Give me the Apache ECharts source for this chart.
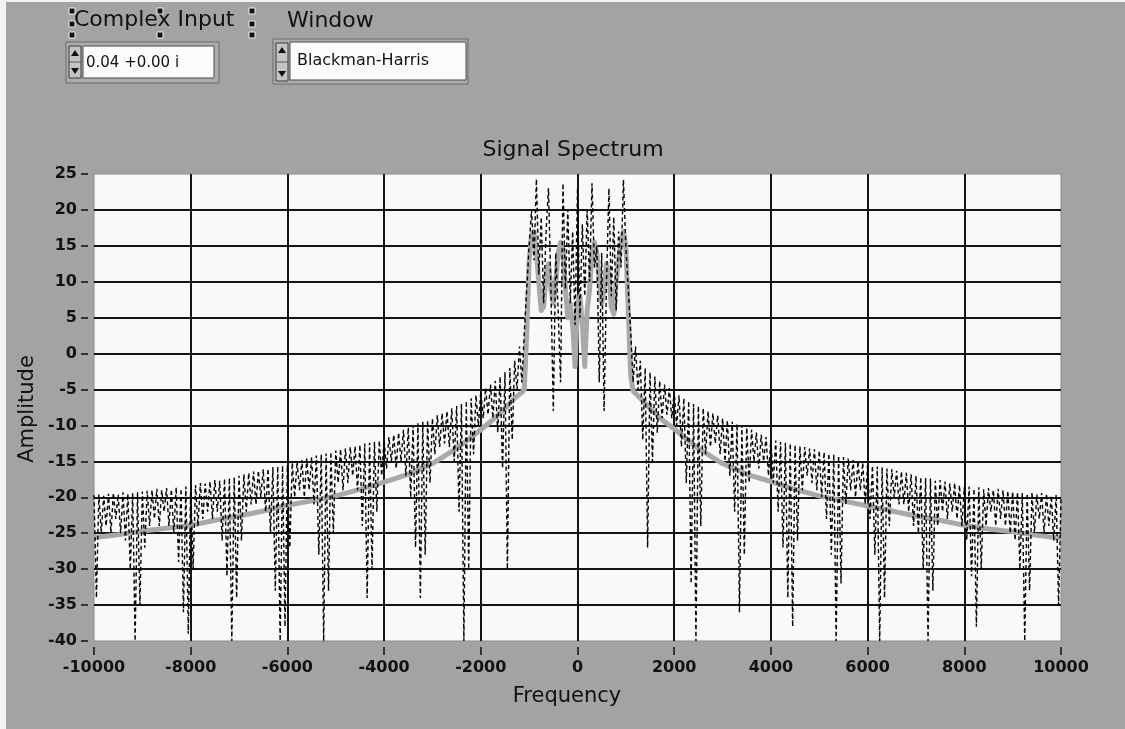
<!DOCTYPE html>
<html>
<head>
<meta charset="utf-8">
<script src="https://cdn.jsdelivr.net/npm/echarts@6/dist/echarts.min.js"></script>
<style>
html,body{margin:0;padding:0;background:#a3a3a3;}
#chart{width:1125px;height:729px;}
</style>
</head>
<body>
<div id="chart"></div>
<script>
// ---- tick labels / axis ranges ----
const xTicks = [-10000,-8000,-6000,-4000,-2000,0,2000,4000,6000,8000,10000];
const yTicks = [25,20,15,10,5,0,-5,-10,-15,-20,-25,-30,-35,-40];

// ---- dashed series (no window), sampled every 50 Hz from -10000 to 10000 ----
const dashFreqStart = -10000;
const dashFreqStep = 50;
const dashAmpLeft = [
  -19.7,-34,-19.6,-25,-19.8,-24,-19.5,-25,-19.4,-23,-19.6,-25,-19.3,-26,-19.5,-30,-19.4,-40,-19.3,-35,
  -19.2,-27,-19.1,-24,-19,-23,-18.8,-24,-19,-22,-18.7,-24,-18.9,-25,-18.6,-29,-18.8,-36,-18.5,-39,
  -18.6,-30,-18.3,-24,-18,-23,-18.1,-22,-17.8,-23,-17.6,-22,-17.7,-26,-17.4,-31,-17.3,-40,-17.2,-34,
  -17,-26,-16.8,-22,-16.6,-21,-16.4,-21,-16.3,-20,-16.1,-22,-16,-25,-15.8,-33,-15.7,-40,-15.6,-38,
  -15.5,-27,-15.2,-20,-15,-19,-14.8,-20,-14.6,-19,-14.4,-21,-14.2,-28,-14,-40,-13.9,-33,-13.7,-25,
  -13.5,-18,-13.3,-19,-13.2,-18,-13,-17,-12.9,-19,-12.7,-24,-12.5,-34,-12.4,-30,-12.3,-22,-12.1,-17,
  -12,-16,-11.6,-15,-11.3,-16,-11,-15,-10.6,-17,-10.3,-20,-10,-27,-9.7,-34,-9.5,-28,-9.3,-18,
  -9,-14,-8.6,-13,-8.3,-12.5,-8,-13,-7.6,-15,-7.3,-22,-7,-40,-6.6,-30,-6.2,-14,-5.8,-10,
  -5.3,-9,-4.8,-8.5,-4.3,-9,-3.8,-11,-3.2,-16,-2.6,-30,-2,-12,-1,-5
];
const dashAmpCenter = [
  1,-4,3,9,15,20,13,24.3,11,19,7,17,23,9,-8,14,6,-4,23.7,9,20,7,17,4,23,
  5,18,8,20,10,23.7,12,15,-4,14,-8,10,23,8,19,6,17,12,24.2,15,9,3,-4,1
];
const dashAmpRight = [
  -5,-1,-12,-2,-27,-2.6,-15,-3.2,-11,-3.8,-9,-4.3,-8.5,-4.8,-9,-5.3,
  -10,-5.8,-13,-6.2,-18,-6.6,-32,-7,-40,-7.3,-24,-7.6,-14,-8,-13,-8.3,-12.5,-8.6,-14,-9,
  -15,-9.3,-17,-9.5,-22,-9.8,-36,-10,-28,-10.3,-18,-10.6,-15,-11,-16,-11.3,-15,-11.6,-17,-12,
  -18,-12.1,-22,-12.3,-27,-12.4,-34,-12.5,-38,-12.7,-26,-12.9,-19,-13,-17,-13.2,-18,-13.3,-19,-13.5,
  -20,-13.7,-23,-13.9,-28,-14,-40,-14.2,-32,-14.4,-21,-14.6,-19,-14.8,-20,-15,-19,-15.2,-21,-15.5,
  -23,-15.6,-28,-15.7,-40,-15.8,-34,-16,-24,-16.1,-20,-16.3,-21,-16.4,-21,-16.6,-22,-16.8,-24,-17,
  -25,-17.2,-30,-17.3,-40,-17.4,-33,-17.7,-24,-17.6,-22,-17.8,-23,-18.1,-22,-18,-23,-18.3,-24,-18.6,
  -26,-18.5,-31,-18.8,-38,-18.6,-30,-18.9,-24,-18.7,-22,-19,-24,-18.8,-23,-19,-24,-19.1,-25,-19.2,
  -26,-19.3,-30,-19.4,-40,-19.5,-33,-19.3,-25,-19.6,-23,-19.4,-25,-19.5,-24,-19.8,-26,-19.6,-35,-20
];

// ---- gray series (Blackman-Harris window) ----
const grayFreq = [
  -10000,-9500,-9000,-8500,-8000,-7500,-7000,-6500,-6000,-5500,-5000,-4500,-4000,-3500,-3000,-2500,-2000,-1750,-1500,-1300,-1150,
  -1100,-1050,-1000,-950,-900,-850,-800,-750,-700,-650,-600,-550,-500,-450,-400,-350,-300,-250,-200,-150,-100,-50,
  0,50,100,150,200,250,300,350,400,450,500,550,600,650,700,750,800,850,900,950,1000,1050,1100,
  1150,1300,1500,1750,2000,2500,3000,3500,4000,4500,5000,5500,6000,6500,7000,7500,8000,8500,9000,9500,10000
];
const grayAmp = [
  -25.6,-25.2,-24.7,-24.3,-23.9,-23.2,-22.6,-21.9,-21.1,-20.5,-19.8,-18.9,-17.9,-16.8,-15.3,-13.2,-10.6,-9.2,-7.6,-6.2,-5.4,
  -5,3,13,16.5,17,14,10,6,6.5,11,12.5,9,7,10,14,15.5,14,9,5,7,4,-1.8,
  7,8,4,-1.8,6,9,14,15.5,14,10,7,9,12.5,11,6.5,5.5,10,13,15.5,17,15,6,-3,
  -5.2,-6.2,-7.6,-9.2,-10.5,-13.2,-15.3,-16.8,-17.8,-18.9,-19.8,-20.5,-21.2,-21.9,-22.6,-23.2,-23.9,-24.4,-24.8,-25.3,-25.7
];

const dashAmp = dashAmpLeft.concat(dashAmpCenter, dashAmpRight);
const dashData = dashAmp.map((v, i) => [dashFreqStart + i * dashFreqStep, v]);
const grayData = grayFreq.map((f, i) => [f, grayAmp[i]]);

const chart = echarts.init(document.getElementById('chart'), null, {renderer: 'canvas'});
const labelFont = {fontFamily: 'DejaVu Sans', fontWeight: 'bold', fontSize: 16, color: '#111'};

function spinner(x, y, h) {
  return [
    {type: 'rect', shape: {x: x, y: y, width: 12, height: h}, style: {fill: '#c4c4c4', stroke: '#3a3a3a', lineWidth: 1}},
    {type: 'polygon', shape: {points: [[x + 6, y + 4], [x + 10, y + 10], [x + 2, y + 10]]}, style: {fill: '#111'}},
    {type: 'polygon', shape: {points: [[x + 2, y + h - 10], [x + 10, y + h - 10], [x + 6, y + h - 4]]}, style: {fill: '#111'}},
    {type: 'line', shape: {x1: x, y1: y + h / 2, x2: x + 12, y2: y + h / 2}, style: {stroke: '#555', lineWidth: 1}}
  ];
}
function handle(cx, cy) {
  return {type: 'rect', shape: {x: cx - 3, y: cy - 3, width: 6, height: 6}, style: {fill: '#111', stroke: '#eee', lineWidth: 1}};
}

const graphics = [
  {type: 'rect', shape: {x: 0, y: 0, width: 6, height: 729}, style: {fill: '#f2f2f2'}},
  {type: 'rect', shape: {x: 0, y: 0, width: 1125, height: 2}, style: {fill: '#f2f2f2'}},
  // Complex Input control
  {type: 'text', x: 74, y: 9, style: {text: 'Complex Input', font: '22px "DejaVu Sans"', fill: '#111'}},
  handle(72, 11), handle(160, 11), handle(252, 11),
  handle(72, 24), handle(252, 24),
  handle(72, 35), handle(160, 35), handle(252, 35),
  {type: 'rect', shape: {x: 66, y: 42, width: 153, height: 41}, style: {fill: '#acacac', stroke: '#6a6a6a', lineWidth: 1}},
  {type: 'rect', shape: {x: 83, y: 46, width: 131, height: 32}, style: {fill: '#fbfbfb', stroke: '#4a4a4a', lineWidth: 1}},
  ...spinner(69, 46, 32),
  {type: 'text', x: 86, y: 63, style: {text: '0.04 +0.00 i', font: '15px "DejaVu Sans"', fill: '#111', textVerticalAlign: 'middle'}},
  // Window control
  {type: 'text', x: 287, y: 10, style: {text: 'Window', font: '22px "DejaVu Sans"', fill: '#111'}},
  {type: 'rect', shape: {x: 273, y: 39, width: 195, height: 45}, style: {fill: '#acacac', stroke: '#6a6a6a', lineWidth: 1}},
  {type: 'rect', shape: {x: 290, y: 42, width: 176, height: 38}, style: {fill: '#fbfbfb', stroke: '#4a4a4a', lineWidth: 1}},
  ...spinner(276, 43, 38),
  {type: 'text', x: 297, y: 61, style: {text: 'Blackman-Harris', font: '16px "DejaVu Sans"', fill: '#111', textVerticalAlign: 'middle'}},
  // titles
  {type: 'text', x: 573, y: 150, style: {text: 'Signal Spectrum', font: '22px "DejaVu Sans"', fill: '#111', textAlign: 'center', textVerticalAlign: 'middle'}},
  {type: 'text', x: 567, y: 697, style: {text: 'Frequency', font: '21px "DejaVu Sans"', fill: '#111', textAlign: 'center', textVerticalAlign: 'middle'}},
  {type: 'text', x: 28, y: 409, rotation: Math.PI / 2, style: {text: 'Amplitude', font: '21px "DejaVu Sans"', fill: '#111', textAlign: 'center', textVerticalAlign: 'middle'}}
];

chart.setOption({
  backgroundColor: '#a3a3a3',
  animation: false,
  grid: {left: 94, right: 64, top: 174, bottom: 88, show: true, backgroundColor: '#f9f9f9', borderColor: '#8a8a8a', borderWidth: 1},
  xAxis: [
    {
      type: 'value', min: xTicks[0], max: xTicks[xTicks.length - 1], interval: 2000, offset: 6,
      axisLine: {show: false, onZero: false},
      axisTick: {show: true, length: 8, lineStyle: {color: '#111', width: 1.5}},
      axisLabel: Object.assign({margin: 13, formatter: v => String(v)}, labelFont),
      splitLine: {show: true, showMinLine: false, showMaxLine: false, lineStyle: {color: '#141414', width: 2}}
    },
    {
      type: 'value', min: xTicks[0], max: xTicks[xTicks.length - 1], interval: 2000, position: 'bottom', offset: 6,
      axisLine: {show: true, onZero: false, lineStyle: {color: 'rgba(0,0,0,0)', width: 1}},
      axisTick: {show: true, length: 8, lineStyle: {color: '#111', width: 1.5}},
      axisLabel: {show: false},
      splitLine: {show: false}
    }
  ],
  yAxis: {
    type: 'value', min: yTicks[yTicks.length - 1], max: yTicks[0], interval: 5, offset: 6,
    axisLine: {show: false, onZero: false},
    axisTick: {show: true, inside: false, length: 7, lineStyle: {color: '#111', width: 1.5}},
    axisLabel: Object.assign({margin: 11, formatter: v => String(v)}, labelFont),
    splitLine: {show: true, showMinLine: false, showMaxLine: false, lineStyle: {color: '#141414', width: 2}}
  },
  series: [
    {
      name: 'Blackman-Harris', type: 'line', data: grayData, showSymbol: false, symbol: 'none',
      lineStyle: {color: '#a9a9a9', width: 5, join: 'round', cap: 'round'}, z: 2
    },
    {
      name: 'No window', type: 'line', data: dashData, showSymbol: false, symbol: 'none', sampling: null,
      lineStyle: {color: '#000', width: 1.4, type: [4, 3]}, z: 3
    }
  ],
  graphic: graphics
});
</script>
</body>
</html>
